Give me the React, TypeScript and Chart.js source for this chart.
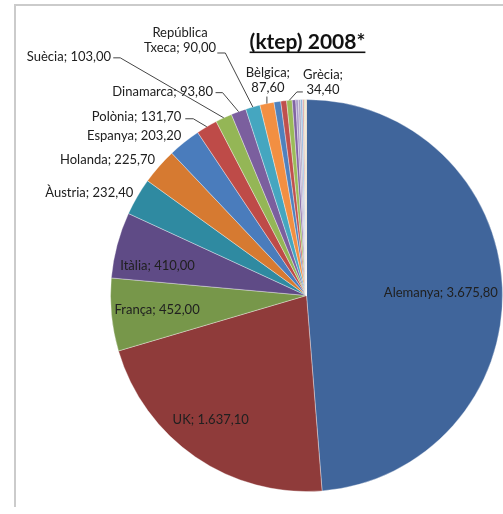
import React, { useEffect, useRef } from "react";
import { Chart, registerables } from "chart.js";

Chart.register(...registerables);

// ---- data ----
const categories = [
  "Alemanya", "UK", "França", "Itàlia", "Àustria", "Holanda", "Espanya", "Polònia",
  "Suècia", "Dinamarca", "República Txeca", "Bèlgica", "Finlàndia", "Irlanda", "Grècia",
  "Portugal", "Eslovènia", "Hongria", "Luxemburg", "Eslovàquia", "Letònia", "Lituània",
];
const values = [
  3675.8, 1637.1, 452.0, 410.0, 232.4, 225.7, 203.2, 131.7,
  103.0, 93.8, 90.0, 87.6, 42.0, 36.0, 34.4,
  22.0, 16.0, 14.0, 12.0, 10.0, 8.0, 6.0,
];
const colors = [
  "#40659b", "#8f3b3a", "#77974a", "#5f4b86", "#2f8aa1", "#d67a31", "#4a7cbc", "#be4b48",
  "#94b656", "#7b5f9e", "#45a6c0", "#f28f42", "#4f81bd", "#c0504d", "#9bbb59",
  "#8064a2", "#a99bc9", "#b0a8c0", "#8fb5dc", "#d9a0a0", "#c9d9a9", "#f7c89a",
];
const titleText = "(ktep) 2008*";

// ---- label layout (placement only) ----
type Spec = {
  i: number;
  mode: "in" | "out";
  frac?: number;
  dx: number;
  dy: number;
  align?: CanvasTextAlign;
  lines?: "one" | "splitName" | "splitValue";
  leader?: number[][];
};
const labelSpecs: Spec[] = [
  { i: 0, mode: "in", frac: 0.686, dx: 0, dy: 3 },
  { i: 1, mode: "in", frac: 0.8, dx: -7, dy: -5 },
  { i: 2, mode: "in", frac: 0.766, dx: 0, dy: 0 },
  { i: 3, mode: "in", frac: 0.776, dx: -2, dy: 10 },
  { i: 4, mode: "out", dx: -4, dy: -3.8, align: "right" },
  { i: 5, mode: "out", dx: -4, dy: -6.5, align: "right" },
  { i: 6, mode: "out", dx: -3, dy: -6.3, align: "right" },
  { i: 7, mode: "out", dx: -25.5, dy: -10, align: "right", leader: [[-21.5, -8], [-13.5, -8]] },
  { i: 8, mode: "out", dx: -112.7, dy: -61, align: "right", leader: [[-110.5, -60], [-103.5, -60]] },
  { i: 9, mode: "out", dx: -25.5, dy: -19.7, align: "right", leader: [[-23, -19], [-16, -19]] },
  { i: 10, mode: "out", dx: -72.8, dy: -66.5, align: "center", lines: "splitName", leader: [[-35.5, -54], [-27.5, -54]] },
  { i: 11, mode: "out", dx: 1, dy: -23, align: "center", lines: "splitValue", leader: [[0, -7]] },
  { i: 14, mode: "out", dx: 33.7, dy: -17.8, align: "center", lines: "splitValue", leader: [[13.5, -8.3], [7.5, -8.3]] },
];

const fmt = (v: number) => {
  const [int, dec] = v.toFixed(2).split(".");
  return int.replace(/\B(?=(\d{3})+(?!\d))/g, ".") + "," + dec;
};

const buildLines = (i: number, mode?: string): string[] => {
  const name = categories[i];
  const val = fmt(values[i]);
  if (mode === "splitName") {
    const parts = name.split(" ");
    return [parts[0], parts.slice(1).join(" ") + "; " + val];
  }
  if (mode === "splitValue") return [name + ";", val];
  return [name + "; " + val];
};

const labelPlugin = {
  id: "sliceLabels",
  afterDatasetsDraw(chart: any) {
    const ctx: CanvasRenderingContext2D = chart.ctx;
    const meta = chart.getDatasetMeta(0);
    ctx.save();
    ctx.font = "13px Lato";
    ctx.fillStyle = "#202020";
    ctx.strokeStyle = "#454545";
    ctx.lineWidth = 1;
    ctx.textBaseline = "middle";
    for (const s of labelSpecs) {
      const arc = meta.data[s.i];
      const p = arc.getProps(["x", "y", "startAngle", "endAngle", "outerRadius"], true);
      const mid = (p.startAngle + p.endAngle) / 2;
      const r = s.mode === "in" ? p.outerRadius * (s.frac || 0.7) : p.outerRadius;
      const ax = p.x + Math.cos(mid) * r;
      const ay = p.y + Math.sin(mid) * r;
      const lines = buildLines(s.i, s.lines);
      const tx = ax + s.dx;
      const ty = ay + s.dy;
      ctx.textAlign = s.align || "center";
      const lh = 15;
      lines.forEach((ln, k) => ctx.fillText(ln, tx, ty + (k - (lines.length - 1) / 2) * lh));
      if (s.leader) {
        ctx.beginPath();
        ctx.moveTo(ax + s.leader[0][0], ay + s.leader[0][1]);
        for (let k = 1; k < s.leader.length; k++) ctx.lineTo(ax + s.leader[k][0], ay + s.leader[k][1]);
        ctx.lineTo(ax, ay);
        ctx.stroke();
      }
    }
    // title
    ctx.font = "bold 21px Lato";
    ctx.fillStyle = "#111111";
    ctx.textAlign = "center";
    ctx.textBaseline = "alphabetic";
    const tcx = 307.5;
    const tby = 48.5;
    ctx.fillText(titleText, tcx, tby);
    const w = ctx.measureText(titleText).width;
    ctx.fillRect(tcx - w / 2, tby + 3, w, 1.6);
    ctx.restore();
  },
};

export default function App() {
  const ref = useRef<HTMLCanvasElement>(null);
  useEffect(() => {
    const chart = new Chart(ref.current as HTMLCanvasElement, {
      type: "pie",
      data: {
        labels: categories,
        datasets: [
          {
            data: values,
            backgroundColor: colors,
            borderColor: "rgba(255,255,255,0.5)",
            borderWidth: 0.7,
            radius: 196,
          } as any,
        ],
      },
      options: {
        responsive: false,
        animation: false,
        layout: { padding: { left: 110, right: 0, top: 97, bottom: 20 } },
        plugins: {
          legend: { display: false },
          tooltip: { enabled: false },
          title: { display: false },
        },
      },
      plugins: [labelPlugin],
    });
    return () => chart.destroy();
  }, []);
  return (
    <div style={{ position: "fixed", left: 0, top: 0, width: 503, height: 514, background: "#fff", overflow: "hidden" }}>
      <div
        style={{
          position: "absolute",
          left: 14,
          top: 4,
          width: 520,
          height: 503,
          borderTop: "2px solid #cbcbcb",
          borderLeft: "2px solid #cbcbcb",
          boxSizing: "border-box",
        }}
      />
      <canvas
        ref={ref}
        width={503}
        height={514}
        style={{ position: "absolute", left: 0, top: 0, width: 503, height: 514 }}
      />
    </div>
  );
}
